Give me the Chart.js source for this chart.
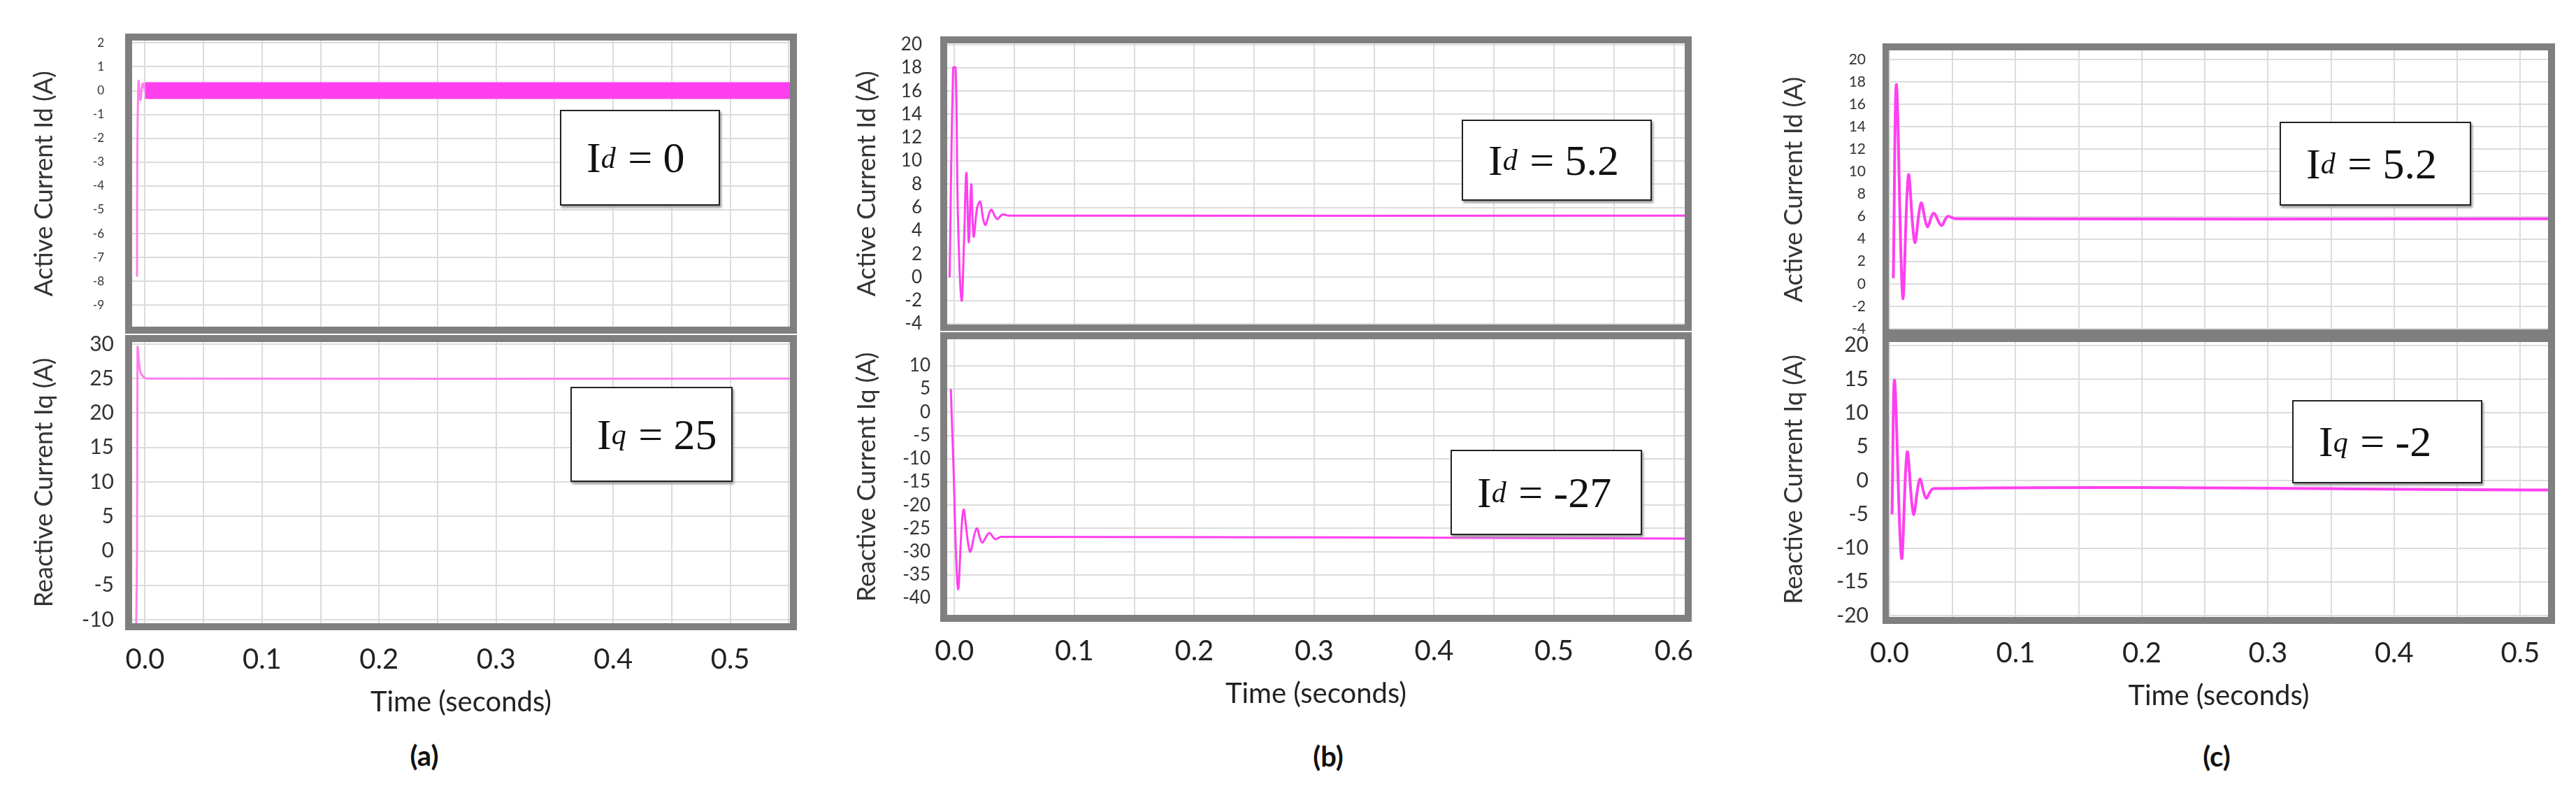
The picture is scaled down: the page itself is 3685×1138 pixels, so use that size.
<!DOCTYPE html>
<html><head><meta charset="utf-8">
<script src="https://cdn.jsdelivr.net/npm/chart.js@4.4.1/dist/chart.umd.min.js"></script>
<style>
html,body{margin:0;padding:0;background:#fff;width:3685px;height:1138px;overflow:hidden;position:relative;}
canvas{position:absolute;}
.box{position:absolute;border:2px solid #222;background:#fff;box-shadow:2px 3px 3px #999;font-family:"Liberation Serif",serif;font-size:62px;color:#111;display:flex;align-items:center;box-sizing:border-box;padding-left:36px;white-space:pre;}
.box sub{font-style:italic;font-size:42px;vertical-align:-6px;margin-right:2px;}
.lab{position:absolute;font-family:Lato,sans-serif;font-size:40px;font-weight:bold;color:#111;transform:translate(-50%,-50%);}
</style></head><body>
<script>
// ---- data ----
const xTicksA = [0,0.05,0.1,0.15,0.2,0.25,0.3,0.35,0.4,0.45,0.5,0.55];
const xTicksB = [0,0.05,0.1,0.15,0.2,0.25,0.3,0.35,0.4,0.45,0.5,0.55,0.6];
const xTicksC = [0,0.05,0.1,0.15,0.2,0.25,0.3,0.35,0.4,0.45,0.5];

const yTicksA1 = [-9,-8,-7,-6,-5,-4,-3,-2,-1,0,1,2];
const yTicksA2 = [-10,-5,0,5,10,15,20,25,30];
const yTicksB1 = [-4,-2,0,2,4,6,8,10,12,14,16,18,20];
const yTicksB2 = [-40,-35,-30,-25,-20,-15,-10,-5,0,5,10];
const yTicksC1 = [-4,-2,0,2,4,6,8,10,12,14,16,18,20];
const yTicksC2 = [-20,-15,-10,-5,0,5,10,15,20];

// (a) active current: start-up spike then ripple band around 0
const tA1 = [-0.0068,-0.0066,-0.0055,-0.004,-0.002,0.0];
const idA1 = [-7.8,-3,0.4,-0.4,0.3,0];
const tA1band = [0.0, 0.56];
const idA1band = [0, 0];
// (a) reactive current
const tA2 = [-0.0075,-0.0068,-0.0064,-0.006,-0.004,-0.001,0.002,0.56];
const iqA2 = [-10.5,0,29.6,29.2,26,25.2,25,25];

// (b)
const tB1 = [-0.004,-0.001,0.001,0.003,0.006,0.008,0.010,0.012,0.014,0.016,0.019,0.0215,0.024,0.026,0.029,0.031,0.034,0.036,0.040,0.045,0.61];
const idB1 = [0,18,18,5,-2,3,9,3,8,3.5,6,6.5,5,4.5,5.5,5.8,5.2,5.0,5.4,5.3,5.3];
const tB2 = [-0.003,-0.001,0.003,0.0075,0.013,0.0185,0.023,0.029,0.034,0.039,0.61];
const iqB2 = [5,-10,-38,-21,-30,-25,-28,-26,-27.3,-26.8,-27.2];

// (c)
const tC1 = [0.003,0.0055,0.0105,0.015,0.020,0.025,0.030,0.035,0.041,0.046,0.052,0.522];
const idC1 = [0.5,17.75,-1.25,9.7,3.7,7.2,5.1,6.3,5.2,6.0,5.8,5.8];
const tC2 = [0.002,0.004,0.0095,0.014,0.019,0.024,0.029,0.035,0.522];
const iqC2 = [-5,14.8,-11.5,4.2,-5,0.2,-2.6,-1.2,-1.4];

// ---- layout ----
const FRAME = '#7f7f7f', B = 10;
function pts(t,v){return t.map((x,i)=>({x:x,y:v[i]}));}

function place(cv,l,t,w,h){cv.style.left=l+'px';cv.style.top=t+'px';}

function makeChart(o){
  const cv=document.createElement('canvas');
  const yAxisW=o.plotLeft-o.canvasLeft;
  let w=o.plotRight+B-o.canvasLeft, h=o.plotBottom-o.plotTop+2*B+(o.xAxisH||0);
  cv.width=w; cv.height=h;
  place(cv,o.canvasLeft,o.plotTop-B);
  document.body.appendChild(cv);
  const frame={id:'frame',beforeDraw(c){const a=c.chartArea,x=c.ctx;x.save();x.fillStyle=FRAME;
    x.fillRect(a.left-B,a.top-B,a.right-a.left+2*B,a.bottom-a.top+2*B);x.fillStyle='#fff';
    x.fillRect(a.left,a.top,a.right-a.left,a.bottom-a.top);x.restore();}};
  const ch=new Chart(cv,{type:'line',data:{datasets:o.datasets},plugins:[frame],
    options:{responsive:false,animation:false,devicePixelRatio:1,
      layout:{padding:{top:B,right:B,left:0,bottom:B}},
      plugins:{legend:{display:false},tooltip:{enabled:false}},
      elements:{point:{radius:0},line:{tension:0.35}},
      scales:{
        x:{type:'linear',min:o.xmin,max:o.xmax,
          afterBuildTicks(s){s.ticks=o.xTicks.map(v=>({value:v}));},
          afterFit(s){s.height=o.xAxisH||0;s.paddingLeft=0;s.paddingRight=0;s.paddingTop=0;s.paddingBottom=0;},
          grid:{color:'#dcdcdc',lineWidth:2,drawTicks:false},border:{display:false},
          ticks:{display:!!o.xAxisH,padding:28,color:'#222',font:{family:'Lato',size:40},maxRotation:0,autoSkip:false,
            callback:v=>Math.abs(v*10-Math.round(v*10))<1e-6?v.toFixed(1):''},
          title:{display:!!o.xAxisH,text:'Time (seconds)',color:'#222',font:{family:'Lato',size:40},padding:0}},
        y:{min:o.ymin,max:o.ymax,
          afterBuildTicks(s){s.ticks=o.yTicks.map(v=>({value:v}));},
          afterFit(s){s.width=yAxisW;s.paddingLeft=0;s.paddingRight=0;s.paddingTop=0;s.paddingBottom=0;},
          grid:{color:'#dcdcdc',lineWidth:2,drawTicks:false},border:{display:false},
          ticks:{padding:o.tickPad,color:'#333',font:{family:'Lato',size:o.tickSize},autoSkip:false},
          title:{display:true,text:o.title,color:'#333',font:{family:'Lato',size:36},padding:0}}
      }}});
  // correct for any automatic layout insets so the plot area lands exactly where wanted
  for(let k=0;k<2;k++){
    const a=ch.chartArea;
    const iL=a.left, iT=a.top, iR=w-a.right, iB=h-a.bottom;
    w=Math.round(o.plotRight-o.plotLeft+iL+iR); h=Math.round(o.plotBottom-o.plotTop+iT+iB);
    place(cv,Math.round(o.plotLeft-iL),Math.round(o.plotTop-iT));
    ch.resize(w,h);
  }
}
function ds(t,v,color,w){return {data:pts(t,v),borderColor:color,borderWidth:w,fill:false};}
const MAG='#ff3ff0', PINK='#ff80ee';

// Panel (a)
const A={canvasLeft:42,plotLeft:189,plotRight:1130,xmin:-0.011,xmax:0.551,xTicks:xTicksA};
makeChart({...A,plotTop:58,plotBottom:467,ymin:-9.9,ymax:2.1,yTicks:yTicksA1,tickSize:17,tickPad:40,
  title:'Active Current Id (A)',datasets:[ds(tA1,idA1,PINK,3),ds(tA1band,idA1band,MAG,24)]});
makeChart({...A,plotTop:489,plotBottom:891,ymin:-10.5,ymax:30.3,yTicks:yTicksA2,tickSize:30,tickPad:26,xAxisH:137,
  title:'Reactive Current Iq (A)',datasets:[ds(tA2,iqA2,PINK,3)]});

// Panel (b)
const Bp={canvasLeft:1219,plotLeft:1355,plotRight:2410,xmin:-0.006,xmax:0.609,xTicks:xTicksB};
makeChart({...Bp,plotTop:62,plotBottom:463,ymin:-4,ymax:20.1,yTicks:yTicksB1,tickSize:26,tickPad:36,
  title:'Active Current Id (A)',datasets:[ds(tB1,idB1,MAG,3)]});
makeChart({...Bp,plotTop:485,plotBottom:879,ymin:-43.6,ymax:15.7,yTicks:yTicksB2,tickSize:26,tickPad:24,xAxisH:137,
  title:'Reactive Current Iq (A)',datasets:[ds(tB2,iqB2,MAG,3)]});

// Panel (c)
const Cp={canvasLeft:2545,plotLeft:2703,plotRight:3645,xmin:0,xmax:0.522,xTicks:xTicksC};
makeChart({...Cp,plotTop:72,plotBottom:470,ymin:-4,ymax:20.8,yTicks:yTicksC1,tickSize:21,tickPad:34,
  title:'Active Current Id (A)',datasets:[ds(tC1,idC1,MAG,4)]});
makeChart({...Cp,plotTop:489,plotBottom:882,ymin:-20.2,ymax:20.5,yTicks:yTicksC2,tickSize:30,tickPad:30,xAxisH:137,
  title:'Reactive Current Iq (A)',datasets:[ds(tC2,iqC2,MAG,4)]});

// annotation boxes and panel labels
const boxes=[
 [801,157,229,137,'I<sub>d</sub> = 0'],
 [816,553,232,136,'I<sub>q</sub> = 25'],
 [2091,171,272,116,'I<sub>d</sub> = 5.2'],
 [2075,643,274,122,'I<sub>d</sub> = -27'],
 [3261,174,274,120,'I<sub>d</sub> = 5.2'],
 [3279,572,272,119,'I<sub>q</sub> = -2']];
boxes.forEach(b=>{const d=document.createElement('div');d.className='box';
  d.style.cssText=`left:${b[0]}px;top:${b[1]}px;width:${b[2]}px;height:${b[3]}px;`;d.innerHTML=b[4];document.body.appendChild(d);});
[[607,1080,'(a)'],[1900,1081,'(b)'],[3171,1081,'(c)']].forEach(l=>{const d=document.createElement('div');d.className='lab';
  d.style.left=l[0]+'px';d.style.top=l[1]+'px';d.textContent=l[2];document.body.appendChild(d);});
</script>
</body></html>
